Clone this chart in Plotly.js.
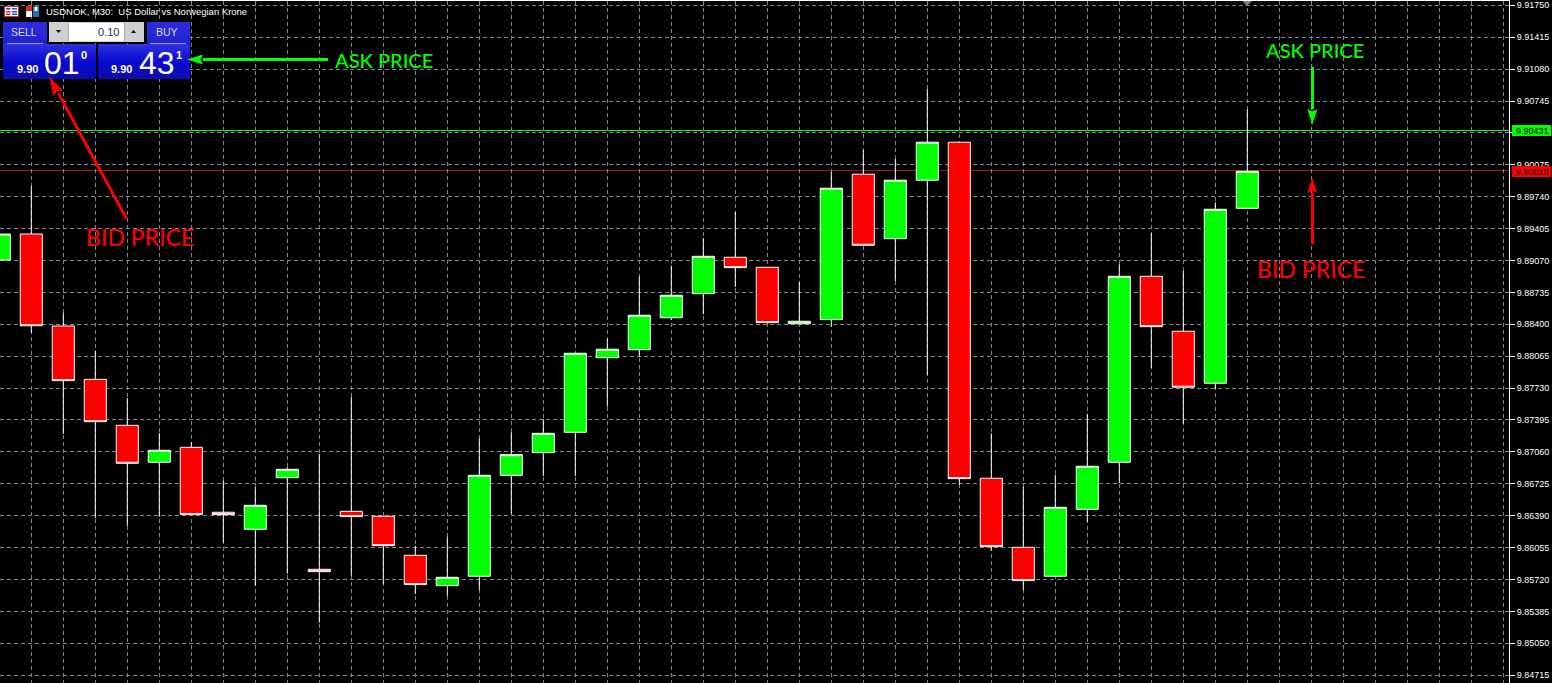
<!DOCTYPE html>
<html><head><meta charset="utf-8">
<script src="https://cdn.plot.ly/plotly-3.0.1.min.js"></script>
<style>html,body{margin:0;padding:0;background:#000;overflow:hidden}#c{width:1552px;height:683px}</style>
</head><body><div id="c"></div>
<script>
const bars=[0,1,2,3,4,5,6,7,8,9,10,11,12,13,14,15,16,17,18,19,20,21,22,23,24,25,26,27,28,29,30,31,32,33,34,35,36,37,38,39];
const opens=[9.89075,9.89348,9.88382,9.87822,9.87339,9.86951,9.87108,9.86426,9.86247,9.86789,9.85827,9.86436,9.86384,9.85974,9.85655,9.85754,9.86814,9.87052,9.87266,9.88049,9.88133,9.88469,9.88722,9.89104,9.88999,9.88406,9.88449,9.89976,9.89299,9.89913,9.90312,9.86783,9.86058,9.85754,9.86457,9.86951,9.88904,9.88327,9.87781,9.89618];
const highs=[9.89348,9.89852,9.88522,9.88123,9.87626,9.87259,9.87164,9.86758,9.86688,9.86898,9.87038,9.87637,9.86387,9.86075,9.86170,9.87203,9.87269,9.87403,9.88099,9.88249,9.88900,9.89016,9.89306,9.89580,9.89002,9.88844,9.90000,9.90231,9.90136,9.90871,9.90315,9.87255,9.86695,9.86821,9.87458,9.89034,9.89356,9.88960,9.89681,9.90658];
const lows=[9.89075,9.88309,9.87248,9.86366,9.86282,9.86380,9.86401,9.86107,9.85655,9.85781,9.85266,9.85760,9.85670,9.85568,9.85547,9.85610,9.86411,9.86807,9.86807,9.87535,9.88060,9.88445,9.88505,9.88792,9.88415,9.88403,9.88375,9.89230,9.88855,9.87868,9.86716,9.86023,9.85610,9.85746,9.86324,9.86733,9.87938,9.87356,9.87721,9.89618];
const closes=[9.89348,9.88385,9.87808,9.87377,9.86940,9.87077,9.86401,9.86401,9.86499,9.86877,9.85802,9.86380,9.86075,9.85666,9.85743,9.86814,9.87031,9.87255,9.88096,9.88138,9.88495,9.88705,9.89114,9.88995,9.88417,9.88432,9.89829,9.89230,9.89913,9.90312,9.86779,9.86065,9.85708,9.86478,9.86909,9.88904,9.88375,9.87739,9.89608,9.90007];
const priceTicks=[9.91750,9.91415,9.91080,9.90745,9.90410,9.90075,9.89740,9.89405,9.89070,9.88735,9.88400,9.88065,9.87730,9.87395,9.87060,9.86725,9.86390,9.86055,9.85720,9.85385,9.85050,9.84715];
const priceLabels=["9.91750","9.91415","9.91080","9.90745","","9.90075","9.89740","9.89405","9.89070","9.88735","9.88400","9.88065","9.87730","9.87395","9.87060","9.86725","9.86390","9.86055","9.85720","9.85385","9.85050","9.84715"];
const timeGrid=[1,2,3,4,5,6,7,8,9,10,11,12,13,14,15,16,17,18,19,20,21,22,23,24,25,26,27,28,29,30,31,32,33,34,35,36,37,38,39,40,41,42,43,44,45,46,47];
const askPrice=9.90431, bidPrice=9.90010;

const W=1552,H=683,L=1509,T=1;
const px=x=>x/L, py=y=>(H-y)/(H-T);
const shapes=[],ann=[];
const rect=(x0,y0,x1,y1,fill,line,lw)=>shapes.push({type:'rect',xref:'paper',yref:'paper',x0:px(x0),x1:px(x1),y0:py(y0),y1:py(y1),fillcolor:fill,line:{color:line||fill,width:line?(lw||1):0},layer:'above'});
const poly=(pts,fill)=>shapes.push({type:'path',xref:'paper',yref:'paper',path:'M'+pts.map(p=>px(p[0])+','+py(p[1])).join('L')+'Z',fillcolor:fill,line:{width:0},layer:'above'});
const seg=(x0,y0,x1,y1,c,w)=>shapes.push({type:'line',xref:'paper',yref:'paper',x0:px(x0),x1:px(x1),y0:py(y0),y1:py(y1),line:{color:c,width:w},layer:'above'});
const txt=(x,y,t,size,color,anchor,fam,bold,weight)=>ann.push({xref:'paper',yref:'paper',x:px(x),y:py(y),text:bold?'<b>'+t+'</b>':t,showarrow:false,xanchor:anchor||'left',yanchor:'middle',font:{size,color,family:fam||'"Liberation Sans",sans-serif',weight:weight||'normal'},borderpad:0});
function arrow(x0,y0,x1,y1,c,w,hl,hw){
  const d=Math.hypot(x1-x0,y1-y0),ux=(x1-x0)/d,uy=(y1-y0)/d,bx=x1-ux*hl,by=y1-uy*hl;
  seg(x0,y0,bx,by,c,w);
  poly([[x1,y1],[bx-uy*hw/2,by+ux*hw/2],[bx+ux*hl*0.15,by+uy*hl*0.15],[bx+uy*hw/2,by-ux*hw/2]],c);
}
function grad(x0,y0,x1,y1,top,mid,bot){
  const n=Math.round(y1-y0);
  for(let i=0;i<n;i++){
    const t=i/(n-1),a=t<.5?top:mid,b=t<.5?mid:bot,u=t<.5?t*2:(t-.5)*2;
    const col='rgb('+a.map((v,k)=>Math.round(v+(b[k]-v)*u)).join(',')+')';
    rect(x0,y0+i,x1,y0+i+1,col);
  }
}
// price lines (behind the candles)
shapes.push({type:'line',xref:'x',yref:'y',x0:0,x1:48,y0:askPrice,y1:askPrice,line:{color:'#00ff00',width:1},layer:'below'});
shapes.push({type:'line',xref:'x',yref:'y',x0:0,x1:48,y0:bidPrice,y1:bidPrice,line:{color:'#b01010',width:1},layer:'below'});
// price boxes
rect(1512,125,1551,136,'#00ff00');
rect(1512,166,1551,177,'#ff0000');
txt(1515,130.8,askPrice.toFixed(5),9,'#000');
txt(1515,171.8,bidPrice.toFixed(5),9,'#000');
// shift marker
poly([[1242,1],[1252,1],[1247,6]],'#708090');
// title icons
rect(4.5,6.5,18.5,16.5,'#ffffff','#e03020',1);
rect(6,8,10.5,9.5,'#2050d0');rect(12,8,17,9.5,'#2050d0');
rect(6,11,10.5,12.5,'#e03020');rect(12,11,17,12.5,'#2050d0');
rect(6,13.5,10.5,15,'#e03020');rect(12,13.5,17,15,'#2050d0');
rect(26,6,32,17,'#e8e8e8');rect(26,6,32,11,'#d03020');rect(27.5,12,30.5,17,'#ffffff');
rect(33,6,39,17,'#2070c0');rect(34.5,7,37.5,11,'#ffffff');
txt(45,11.5,'USDNOK, M30:  US Dollar vs Norwegian Krone',9.5,'#ffffff');
// trade panel
const hi=[48,48,225],md=[10,10,205],lo=[12,12,175];
grad(3,22,47,44,[44,44,218],[40,40,214],[32,32,208]);
grad(147,22,190,44,[44,44,218],[40,40,214],[32,32,208]);
grad(3,44,96,79,hi,md,lo);
grad(98,44,190,79,hi,md,lo);
seg(7,43.5,43,43.5,'#9aa0e8',1);
seg(150,43.5,186,43.5,'#9aa0e8',1);
rect(49,22,144,42,'#cfcfcf');
rect(69,23,124,41,'#ffffff');
seg(68.5,23,68.5,41,'#a8a8a8',1);seg(124.5,23,124.5,41,'#a8a8a8',1);
poly([[56,30],[61,30],[58.5,33]],'#000');
poly([[131,33],[136,33],[133.5,30]],'#000');
txt(120,32,'0.10',11,'#1c2a60','right');
txt(24,32.5,'SELL',10.5,'#d6dcff','center');
txt(167,32.5,'BUY',10.5,'#d6dcff','center');
txt(16,68.5,'9.90',11,'#ffffff','left',null,true);
txt(43,63,'01',32,'#ffffff','left');
txt(83.5,55,'0',11,'#ffffff','center',null,true);
txt(110,68.5,'9.90',11,'#ffffff','left',null,true);
txt(137.5,63,'43',32,'#ffffff','left');
txt(178.5,55,'1',11,'#ffffff','center',null,true);
// callouts
const lato='Lato,sans-serif';
arrow(328,59.5,187,59.5,'#00ff00',2.5,16,10);
txt(334,59.5,'ASK PRICE',20,'#00ff00','left',lato,false,500);
arrow(126.7,219,49.3,76.7,'#ff0000',3,19,11);
txt(85,237,'BID PRICE',23,'#ff0000','left',lato,false,500);
arrow(1312.3,67,1312.3,125,'#00ff00',3,16,10);
txt(1265,49.5,'ASK PRICE',20,'#00ff00','left',lato,false,500);
arrow(1312.3,244,1312.3,178,'#ff0000',3,15,10);
txt(1256,269,'BID PRICE',23,'#ff0000','left',lato,false,500);

const vTop=9.918057-T*0.00010502, vBot=9.918057-H*0.00010502;
const trace={type:'candlestick',x:bars,open:opens,high:highs,low:lows,close:closes,whiskerwidth:0,hoverinfo:'skip',
  increasing:{line:{color:'#ffffff',width:1},fillcolor:'#00ff00'},
  decreasing:{line:{color:'#ffffff',width:1},fillcolor:'#ff0000'}};
const layout={width:W,height:H,margin:{l:0,r:W-L,t:T,b:0},paper_bgcolor:'#000',plot_bgcolor:'#000',showlegend:false,
  boxgap:0.31,boxgroupgap:0,hovermode:false,dragmode:false,
  xaxis:{range:[0.7/32,(L+0.7)/32],tickmode:'array',tickvals:timeGrid,showticklabels:false,ticks:'',side:'top',
    showgrid:true,gridcolor:'#778899',griddash:'4px,3px',gridwidth:1,zeroline:false,showline:true,linecolor:'#fff',linewidth:1,
    rangeslider:{visible:false},fixedrange:true},
  yaxis:{range:[vBot,vTop],side:'right',tickmode:'array',tickvals:priceTicks,ticktext:priceLabels,ticks:'outside',ticklen:5,tickcolor:'#fff',tickwidth:1,
    ticklabeloverflow:'allow',
    tickfont:{size:9,color:'#fff',family:'"Liberation Sans",sans-serif'},
    showgrid:true,gridcolor:'#778899',griddash:'4px,3px',gridwidth:1,zeroline:false,showline:true,linecolor:'#fff',linewidth:1,fixedrange:true,automargin:false},
  shapes:shapes,annotations:ann};
Plotly.newPlot('c',[trace],layout,{staticPlot:true,displayModeBar:false}).then(gd=>{
  gd.querySelectorAll('.shapelayer path').forEach(p=>{
    const m=(p.getAttribute('d')||'').match(/^M([\d.\-]+),([\d.\-]+)L([\d.\-]+),([\d.\-]+)$/);
    if(m&&(m[1]===m[3]||m[2]===m[4]))p.style.shapeRendering='crispEdges';
  });
});
</script></body></html>
